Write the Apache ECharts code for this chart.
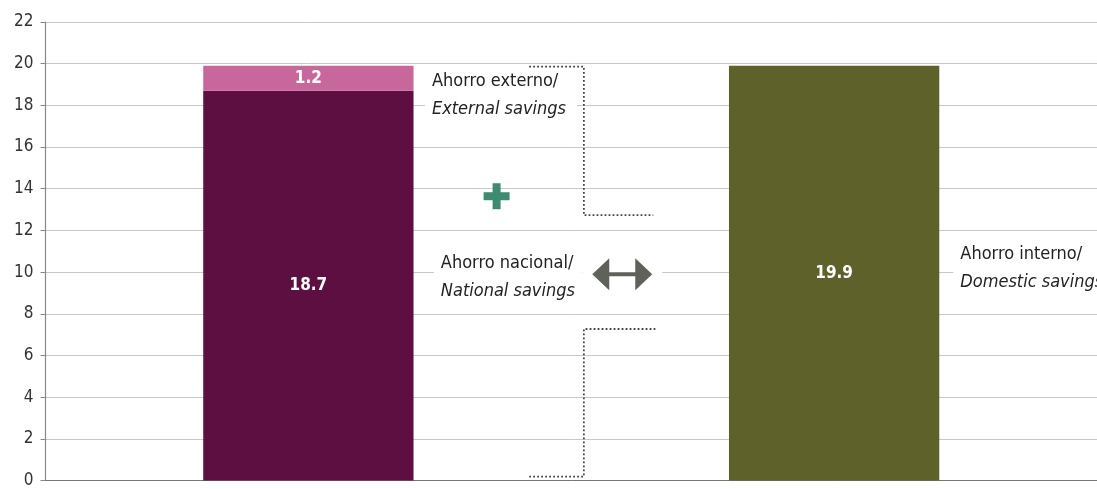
<!DOCTYPE html>
<html>
<head>
<meta charset="utf-8">
<script src="https://cdn.jsdelivr.net/npm/echarts@6/dist/echarts.min.js"></script>
<style>
  html, body { margin: 0; padding: 0; background: #fff; }
  #chart { width: 1097px; height: 489px; }
</style>
</head>
<body>
<div id="chart"></div>
<script>
    // datos
    var categories = ['Nacional', 'Interno'];
    var nacional = [18.7, '-'];
    var externo = [1.2, '-'];
    var interno = ['-', 19.9];
    var yTicks = [0, 22, 2];

    // corchetes punteados (x en unidades de categoria, y en %)
    var bracketTop = [[0.42, 19.86], [0.524, 19.86], [0.524, 12.73], [0.656, 12.73]];
    var bracketBottom = [[0.42, 0.19], [0.524, 0.19], [0.524, 7.27], [0.66, 7.27]];

    var FONT = '"Liberation Sans Narrow", "DejaVu Sans Condensed", "Roboto", sans-serif';

    var chart = echarts.init(document.getElementById('chart'));

    var barLabel = {
        show: true,
        position: 'inside',
        color: '#fff',
        fontWeight: 'bold',
        fontSize: 17,
        fontFamily: FONT
    };

    var dotted = {
        color: '#444',
        width: 1.8,
        type: [1.8, 2.2]
    };

    chart.setOption({
        backgroundColor: '#fff',
        animation: false,
        grid: { left: 45.5, right: -6.5, top: 22, bottom: 4, containLabel: false },
        xAxis: [{
            type: 'category',
            data: categories,
            axisLine: { show: true, lineStyle: { color: '#777', width: 1 } },
            axisTick: { show: false },
            axisLabel: { show: false }
        }, {
            type: 'value',
            min: -0.5,
            max: 1.5,
            show: false
        }],
        yAxis: {
            type: 'value',
            min: yTicks[0],
            max: yTicks[1],
            interval: yTicks[2],
            axisLine: { show: true, onZero: false, lineStyle: { color: '#888', width: 1.2 } },
            axisTick: { show: true, length: 5, lineStyle: { color: '#888' } },
            axisLabel: { color: '#333', fontSize: 17, fontFamily: FONT, margin: 12 },
            splitLine: { lineStyle: { color: '#c8c8c8', width: 1 } }
        },
        series: [{
            name: 'Ahorro nacional',
            type: 'bar',
            stack: 'a',
            barWidth: '40%',
            data: nacional,
            itemStyle: { color: '#5e0f42' },
            label: barLabel
        }, {
            name: 'Ahorro externo',
            type: 'bar',
            stack: 'a',
            data: externo,
            itemStyle: { color: '#c7679b' },
            label: barLabel
        }, {
            name: 'Ahorro interno',
            type: 'bar',
            stack: 'a',
            data: interno,
            itemStyle: { color: '#5e6129' },
            label: barLabel
        }, {
            type: 'line',
            xAxisIndex: 1,
            data: bracketTop,
            symbol: 'none',
            lineStyle: dotted,
            z: 5
        }, {
            type: 'line',
            xAxisIndex: 1,
            data: bracketBottom,
            symbol: 'none',
            lineStyle: dotted,
            z: 5
        }]
    });

    function px(x, y) {
        return chart.convertToPixel({ xAxisIndex: 1, yAxisIndex: 0 }, [x, y]);
    }

    // bloque de texto con fondo blanco que tapa la cuadricula
    function note(pos, w, line1, line2) {
        var p = px(pos[0], pos[1]);
        return {
            type: 'group',
            x: p[0],
            y: p[1],
            z: 10,
            children: [{
                type: 'rect',
                shape: { x: -7, y: -3, width: w, height: 58 },
                style: { fill: '#fff' }
            }, {
                type: 'text',
                x: 0, y: 0,
                style: { text: line1, fill: '#222', font: '18px ' + FONT }
            }, {
                type: 'text',
                x: 0, y: 28,
                style: { text: line2, fill: '#222', font: 'italic 18px ' + FONT }
            }]
        };
    }

    var plus = px(0.358, 13.64);
    var arrow = px(0.597, 9.9);

    chart.setOption({
        graphic: [
            note([0.235, 19.6], 152, 'Ahorro externo/', 'External savings'),
            note([0.252, 10.84], 148, 'Ahorro nacional/', 'National savings'),
            note([1.24, 11.27], 150, 'Ahorro interno/', 'Domestic savings'),
            {
                type: 'rect',
                z: 9,
                shape: { x: arrow[0] - 40, y: arrow[1] - 18, width: 80, height: 36 },
                style: { fill: '#fff' }
            },
            {
                type: 'polygon',
                z: 11,
                shape: {
                    points: [
                        [arrow[0] - 30, arrow[1]],
                        [arrow[0] - 13, arrow[1] - 16],
                        [arrow[0] - 13, arrow[1] - 2],
                        [arrow[0] + 13, arrow[1] - 2],
                        [arrow[0] + 13, arrow[1] - 16],
                        [arrow[0] + 30, arrow[1]],
                        [arrow[0] + 13, arrow[1] + 16],
                        [arrow[0] + 13, arrow[1] + 2],
                        [arrow[0] - 13, arrow[1] + 2],
                        [arrow[0] - 13, arrow[1] + 16]
                    ]
                },
                style: { fill: '#5f625a' }
            },
            {
                type: 'group',
                x: plus[0],
                y: plus[1],
                z: 11,
                children: [{
                    type: 'rect',
                    shape: { x: -13, y: -4, width: 26, height: 8 },
                    style: { fill: '#3f8a72' }
                }, {
                    type: 'rect',
                    shape: { x: -4, y: -13, width: 8, height: 26 },
                    style: { fill: '#3f8a72' }
                }]
            }
        ]
    });
</script>
</body>
</html>
